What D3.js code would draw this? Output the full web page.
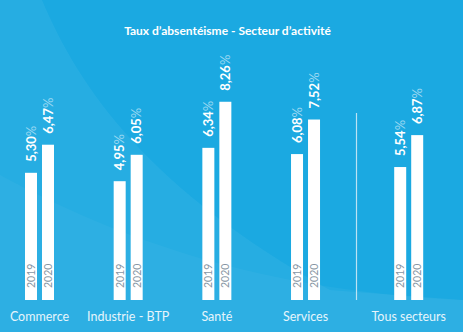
<!DOCTYPE html>
<html><head><meta charset="utf-8">
<script src="https://cdn.jsdelivr.net/npm/d3@7/dist/d3.min.js"></script>
<style>html,body{margin:0;padding:0;background:#1aa8e0;overflow:hidden}svg{display:block}</style>
</head><body>
<svg id="c" width="463" height="332"></svg>
<script>
const title = "Taux d’absentéisme - Secteur d’activité";
const categories = ["Commerce", "Industrie - BTP", "Santé", "Services", "Tous secteurs"];
const years = ["2019", "2020"];
const values2019 = [5.30, 4.95, 6.34, 6.08, 5.54];
const values2020 = [6.47, 6.05, 8.26, 7.52, 6.87];
const fmt = v => d3.format(".2f")(v).replace(".", ",");

const W = 463, H = 332;
const svg = d3.select("#c");

// background
svg.append("rect").attr("width", W).attr("height", H).attr("fill", "#1ba9e1");
svg.append("path").attr("d", "M0,0 L42,0 C80,90 150,190 330,290 L463,300 L463,332 L0,332 Z")
  .attr("fill", "#ffffff").attr("opacity", 0.05);
svg.append("path").attr("d", "M0,175 C120,240 260,290 463,300 L463,332 L0,332 Z")
  .attr("fill", "#ffffff").attr("opacity", 0.035);

svg.append("text").attr("x", 227.5).attr("y", 35).attr("text-anchor", "middle")
  .attr("font-family", "Lato").attr("font-weight", "bold").attr("font-size", 12)
  .attr("fill", "#ffffff").text(title);

// last group ("Tous secteurs") is set apart by an extra gap beyond the regular step
const xp = d3.scalePoint().domain(categories).range([39.5, 394.2]);
const extraGap = 14.5;
const x = c => xp(c) + (c === categories[categories.length - 1] ? extraGap : 0);
const y = d3.scaleLinear().domain([0, 10]).range([300, 60]);
const bw = 12, gap = 5;

const data = categories.map((c, i) => ({c, vals: [values2019[i], values2020[i]]}));

// separator
const sepX = Math.round((x(categories[3]) + x(categories[4])) / 2) - 0.5;
svg.append("line").attr("x1", sepX).attr("x2", sepX).attr("y1", 113).attr("y2", y(0))
  .attr("stroke", "#d8eef8").attr("stroke-width", 1.2).attr("opacity", 0.85);

const g = svg.append("g");
data.forEach(d => {
  d.vals.forEach((v, j) => {
    const bx = x(d.c) + (j === 0 ? -(bw + gap / 2) : gap / 2);
    g.append("rect").attr("x", bx).attr("y", y(v)).attr("width", bw).attr("height", y(0) - y(v))
      .attr("fill", "#ffffff");
    const cx = bx + bw / 2;
    g.append("text").attr("transform", `translate(${cx + 4},${y(0) - 12}) rotate(-90)`)
      .attr("font-family", "Lato").attr("font-size", 10.5).attr("fill", "#8796a4").text(years[j]);
    const t = g.append("text").attr("transform", `translate(${cx + 4.5},${y(v) - 11}) rotate(-90)`)
      .attr("font-family", "Lato").attr("font-size", 13);
    t.append("tspan").attr("font-weight", "bold").attr("fill", "#ffffff").text(fmt(v));
    t.append("tspan").attr("fill", "#9ad8f2").text("%");
  });
  g.append("text").attr("x", x(d.c)).attr("y", 321).attr("text-anchor", "middle")
    .attr("font-family", "Lato").attr("font-size", 12.5).attr("fill", "#e6f5fc").text(d.c);
});
</script>
</body></html>
